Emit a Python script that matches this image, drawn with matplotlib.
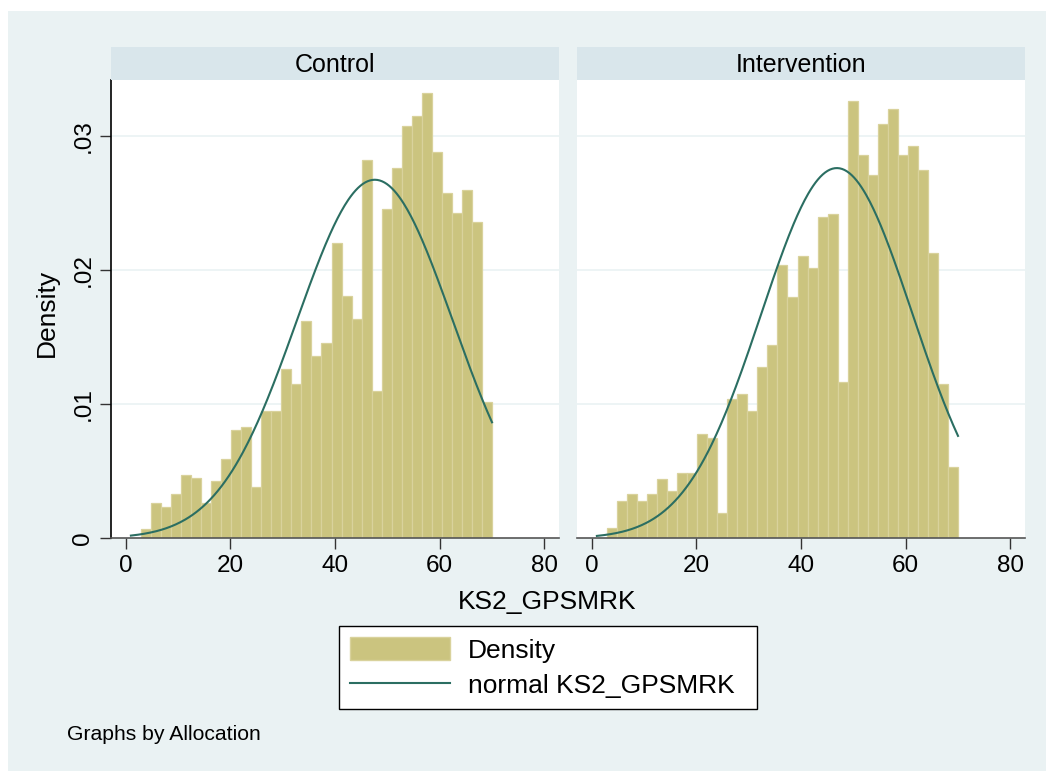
import numpy as np
import matplotlib
matplotlib.use("Agg")
import matplotlib.pyplot as plt
from matplotlib.patches import Rectangle, Patch
from matplotlib.lines import Line2D

plt.rcParams['font.family'] = ['Liberation Sans', 'DejaVu Sans']

# ---------------- data ----------------
groups = ["Control", "Intervention"]
bin_start = 1.0
bin_end = 70.0
n_bins = 36
control_density = [0.0, 0.0007, 0.0026, 0.0023, 0.0033, 0.0047, 0.0045, 0.0026, 0.0043, 0.0059,
                   0.0081, 0.0083, 0.0038, 0.0095, 0.0095, 0.0126, 0.0115, 0.0162, 0.0136,
                   0.0146, 0.0220, 0.0181, 0.0164, 0.0282, 0.0110, 0.0246, 0.0276, 0.0308,
                   0.0315, 0.0332, 0.0288, 0.0258, 0.0243, 0.0260, 0.0236, 0.0102]
intervention_density = [0.0, 0.0008, 0.0028, 0.0033, 0.0028, 0.0033, 0.0044, 0.0035, 0.0049, 0.0049,
                        0.0078, 0.0075, 0.0019, 0.0104, 0.0108, 0.0095, 0.0128, 0.0144, 0.0204,
                        0.0180, 0.0211, 0.0202, 0.0240, 0.0242, 0.0117, 0.0326, 0.0286, 0.0271,
                        0.0309, 0.0320, 0.0286, 0.0293, 0.0275, 0.0213, 0.0115, 0.0053]
normal_mean = [47.6, 46.85]
normal_sd = [14.91, 14.44]
x_ticks = [0, 20, 40, 60, 80]
y_ticks = [0, 0.01, 0.02, 0.03]
y_tick_labels = ["0", ".01", ".02", ".03"]
legend_labels = ["Density", "normal KS2_GPSMRK"]
x_title = "KS2_GPSMRK"
y_title = "Density"
note = "Graphs by Allocation"

# ---------------- style ----------------
W, H = 1046, 771
outer_bg = "#EAF2F3"
strip_bg = "#D9E6EB"
bar_fill = "#CBC47F"
bar_edge = "#D9D29C"
line_col = "#2B6E62"
grid_col = "#EAF2F3"

fig = plt.figure(figsize=(W / 100, H / 100), dpi=100)
fig.patch.set_facecolor("white")


def fx(px):
    return px / W


def fy(py):
    return 1 - py / H


fig.add_artist(Rectangle((fx(8), 0), 1 - fx(8), fy(11), transform=fig.transFigure,
                         facecolor=outer_bg, edgecolor="none", zorder=-10))

panel_x = [(111, 559), (577, 1025)]
plot_top, plot_bot = 80, 538.3
strip_top = 47

edges = np.linspace(bin_start, bin_end, n_bins + 1)
width = edges[1] - edges[0]
datas = [control_density, intervention_density]

for i, (x0, x1) in enumerate(panel_x):
    ax = fig.add_axes([fx(x0), fy(plot_bot), fx(x1 - x0), (plot_bot - plot_top) / H])
    ax.set_facecolor("white")
    ax.set_axisbelow(True)
    ax.bar(edges[:-1], datas[i], width=width, align="edge", color=bar_fill,
           edgecolor=bar_edge, linewidth=0.9, zorder=2)
    xs = np.linspace(bin_start, bin_end, 300)
    ys = np.exp(-0.5 * ((xs - normal_mean[i]) / normal_sd[i]) ** 2) / (normal_sd[i] * np.sqrt(2 * np.pi))
    ax.plot(xs, ys, color=line_col, linewidth=1.5, zorder=3)
    ax.set_xlim(-2.8, 82.8)
    ax.set_ylim(0, 0.0342)
    ax.set_xticks(x_ticks)
    ax.set_xticklabels([str(t) for t in x_ticks], fontsize=17.5)
    ax.set_yticks(y_ticks)
    for t in y_ticks[1:]:
        ax.axhline(t, color=grid_col, linewidth=1.2, zorder=1)
    ax.tick_params(axis="x", length=8, width=1.0, color="#333333", pad=4)
    for s in ["top", "right"]:
        ax.spines[s].set_visible(False)
    ax.spines["bottom"].set_color("#555555")
    ax.spines["bottom"].set_linewidth(1.2)
    if i == 0:
        ax.set_yticklabels(y_tick_labels, fontsize=17.5, rotation=90, va="center")
        ax.tick_params(axis="y", length=8, width=1.0, color="#333333", pad=4)
        ax.spines["left"].set_color("black")
        ax.spines["left"].set_linewidth(1.2)
    else:
        ax.set_yticklabels([])
        ax.tick_params(axis="y", length=0)
        ax.spines["left"].set_visible(False)

    sax = fig.add_axes([fx(x0), fy(plot_top), fx(x1 - x0), (plot_top - strip_top) / H])
    sax.set_facecolor(strip_bg)
    sax.set_xticks([])
    sax.set_yticks([])
    for s in sax.spines.values():
        s.set_visible(False)
    sax.text(0.5, 0.45, groups[i], ha="center", va="center", fontsize=18, transform=sax.transAxes)

fig.text(fx(47), fy(313), y_title, rotation=90, ha="center", va="center", fontsize=19)
fig.text(fx(547), fy(602), x_title, ha="center", va="center", fontsize=19)
fig.text(fx(67), fy(735), note, ha="left", va="center", fontsize=15.2)

handles = [Patch(facecolor=bar_fill, edgecolor=bar_edge, linewidth=1.0),
           Line2D([0], [0], color=line_col, linewidth=1.5)]
leg = fig.legend(handles, legend_labels, loc="upper left",
                 bbox_to_anchor=(fx(339), fy(710), fx(757) - fx(339), fy(625.7) - fy(710)),
                 mode="expand", fontsize=19, frameon=True, fancybox=False,
                 edgecolor="black", facecolor="white", framealpha=1,
                 handlelength=3.8, handleheight=1.0, handletextpad=0.65,
                 labelspacing=0.36, borderpad=0.42, borderaxespad=0)
leg.get_frame().set_linewidth(1.0)

fig.savefig("out.png", dpi=100)
